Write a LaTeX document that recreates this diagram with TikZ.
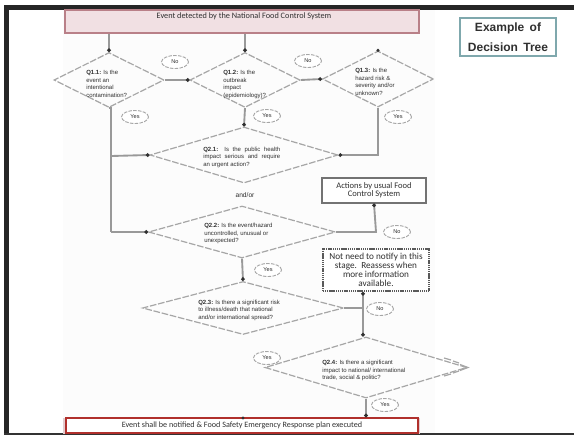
\documentclass[tikz,border=0pt]{standalone}
\usepackage{fontspec}
\setmainfont{Liberation Sans}
\newfontfamily\boxfont{Carlito}
\usetikzlibrary{shapes.geometric,arrows.meta,calc}
\definecolor{lineg}{HTML}{999999}
\definecolor{dashg}{HTML}{A6A6A6}
\definecolor{dotc}{HTML}{303030}
\definecolor{pinkfill}{HTML}{F1E0E3}
\definecolor{pinkedge}{HTML}{B98088}
\definecolor{rededge}{HTML}{B0302C}
\definecolor{tealedge}{HTML}{7FA8AD}
\definecolor{txt}{HTML}{303030}
\definecolor{paper}{HTML}{FCFCFC}
\begin{document}
\begin{tikzpicture}[x=0.75pt,y=-0.75pt,
  qbox/.style={shape=diamond,draw=dashg,dash pattern=on 5pt off 1.3pt,line width=0.9pt,inner sep=0pt},
  qtext/.style={font=\fontsize{4.5}{5.6}\selectfont,text=txt,align=left,anchor=north west,inner sep=0pt},
  oval/.style={shape=ellipse,draw=dashg,dash pattern=on 2.6pt off 1pt,line width=0.7pt,
    minimum width=27*.75pt,minimum height=13*.75pt,inner sep=0pt,fill=white,
    font=\fontsize{4.2}{5}\selectfont,text=txt},
  link/.style={draw=lineg,line width=1.4pt},
  tip/.style={-{Circle[length=2.6pt,color=dotc]}},
  plainbox/.style={draw=#1,fill=white,inner sep=0pt,align=center,text=txt}]

% page frame
\useasboundingbox (0,0) rectangle (574,436);
\fill[paper] (63,10) rectangle (435,433);
\fill[black!85] (4,5) rectangle (574,10);
\fill[black!85] (4,5) rectangle (9,434);
\draw[black!80,line width=0.8pt] (4,434) -- (574,434);

% title box
\node[draw=tealedge,line width=0.9pt,fill=white,minimum width=96*.75pt,minimum height=38*.75pt,
  inner sep=0pt,align=center,font=\fontsize{9}{15}\selectfont\bfseries,text=txt]
  (title) at (508,37) {Example\, of\\Decision\, Tree};

% start and end boxes
\node[draw=pinkedge,line width=0.8pt,fill=pinkfill,minimum width=354*.75pt,minimum height=23*.75pt,inner sep=0pt]
  (start) at (242,21.5) {};
\node[font=\boxfont\fontsize{6.2}{7}\selectfont,text=txt,inner sep=0pt] (starttext) at (244,16.5)
  {Event detected by the National Food Control System};
\draw[pinkedge!40,line width=1.5pt] (64,419) rectangle (419,433);
\node[draw=rededge,line width=1.2pt,fill=white,minimum width=352*.75pt,minimum height=15*.75pt,inner sep=0pt,
  font=\boxfont\fontsize{6.1}{7}\selectfont,text=txt] (final) at (242,425.5)
  {Event shall be notified \& Food Safety Emergency Response plan executed};

% side boxes
\node[plainbox=black!55,line width=0.9pt,minimum width=104*.75pt,minimum height=25*.75pt,
  font=\boxfont\fontsize{6.4}{6}\selectfont] (usual) at (374,190.5)
  {Actions by usual Food\\Control System};
\node[plainbox=black!65,line width=1.4pt,dash pattern=on 0.9pt off 0.5pt,minimum width=106*.75pt,minimum height=42*.75pt,
  font=\boxfont\fontsize{6.9}{6.8}\selectfont] (wait) at (376,270)
  {Not need to notify in this\\stage.\, Reassess when\\more information\\available.};

% decision diamonds
\node[qbox,minimum width=110*.75pt,minimum height=55*.75pt] (q11) at (109,80) {};
\node[qbox,minimum width=110*.75pt,minimum height=55*.75pt] (q12) at (245,80) {};
\node[qbox,minimum width=111*.75pt,minimum height=56*.75pt] (q13) at (378,79) {};
\node[qbox,minimum width=188*.75pt,minimum height=56*.75pt] (q21) at (244,155) {};
\node[qbox,minimum width=187*.75pt,minimum height=52*.75pt] (q22) at (242,232) {};
\node[qbox,minimum width=201*.75pt,minimum height=53*.75pt] (q23) at (243,308) {};
\node[qbox,minimum width=202*.75pt,minimum height=61*.75pt] (q24) at (366,367.5) {};

% doubled strokes at the right corner of Q2.4
\draw[dashg,line width=0.9pt] (444,358) -- (451,360) (453,361) -- (459,363)
  (444,376) -- (451,374) (453,373) -- (459,371);
\draw[dashg,line width=0.9pt] (460,364.5) -- (468,367.5) -- (460,370.5);

% question texts
\node[qtext] (t11) at (86,70) {\textbf{Q1.1:} Is the\\event an\\intentional\\contamination?};
\node[qtext] (t12) at (223,70) {\textbf{Q1.2:} Is the\\outbreak\\impact\\(epidemiology)?};
\node[qtext] (t13) at (355,68) {\textbf{Q1.3:} Is the\\hazard risk \&\\severity and/or\\unknown?};
\node[qtext,text width=77*.75pt,align=justify] (t21) at (203,146.5)
  {\textbf{Q2.1:} Is the public health\linebreak impact serious and require\linebreak an urgent action?};
\node[qtext] (t22) at (204,223) {\textbf{Q2.2:} Is the event/hazard\\uncontrolled, unusual or\\unexpected?};
\node[qtext] (t23) at (198,299.5) {\textbf{Q2.3:} Is there a significant risk\\to illness/death that national\\and/or international spread?};
\node[qtext] (t24) at (322,360) {\textbf{Q2.4:} Is there a significant\\impact to national/ international\\trade, social \& politic?};

\node[font=\fontsize{5}{6}\selectfont,text=txt] (andor) at (245,195) {and/or};

% connectors
\coordinate (j1) at (111,156);
\coordinate (j2) at (111,232);
\coordinate (j3) at (378,155);
\coordinate (j4) at (376,232);
\coordinate (j5) at (363,308);
\draw[link,tip] (q11.north |- start.south) -- (q11.north);
\draw[link,tip] (q12.north |- start.south) -- (q12.north);
\draw[link,tip] (q11.east) -- (q12.west);
\draw[link,tip] (q12.east) -- (q13.west);
\draw[link] (q11.south) -- (q11.south -| j1) -- (j2);
\draw[link,tip] (j1) -- (q21.west);
\draw[link,tip] (j2) -- (q22.west);
\draw[link,tip] (q12.south) -- (q21.north);
\draw[link,tip] (q13.south) -- (j3) -- (q21.east);
\draw[link,tip] (q22.east) -- (j4) -- (usual.south);
\draw[link,tip] (q22.south) -- (q23.north);
\draw[link] (q23.east) -- (j5);
\draw[link,tip] (j5) -- (wait.south -| j5);
\draw[link,tip] (j5) -- (q24.north -| j5);
\draw[link,tip] (q24.south) -- (q24.south |- final.north);

% arrow ends with no visible stem
\coordinate (d13) at (q13.north);
\coordinate (dfin) at (243,418);
\fill[dotc] (d13) circle (1.3pt);
\fill[dotc] (dfin) circle (1.3pt);

% answer labels
\node[oval] (no1) at (175,62) {No};
\node[oval] (no2) at (308,61) {No};
\node[oval] (yes1) at (135,117) {Yes};
\node[oval] (yes2) at (267,116) {Yes};
\node[oval] (yes3) at (398,117) {Yes};
\node[oval] (yes4) at (268,270) {Yes};
\node[oval] (no3) at (397,232) {No};
\node[oval] (no4) at (380,309) {No};
\node[oval] (yes5) at (267,358) {Yes};
\node[oval] (yes6) at (385,405) {Yes};
\end{tikzpicture}
\end{document}
